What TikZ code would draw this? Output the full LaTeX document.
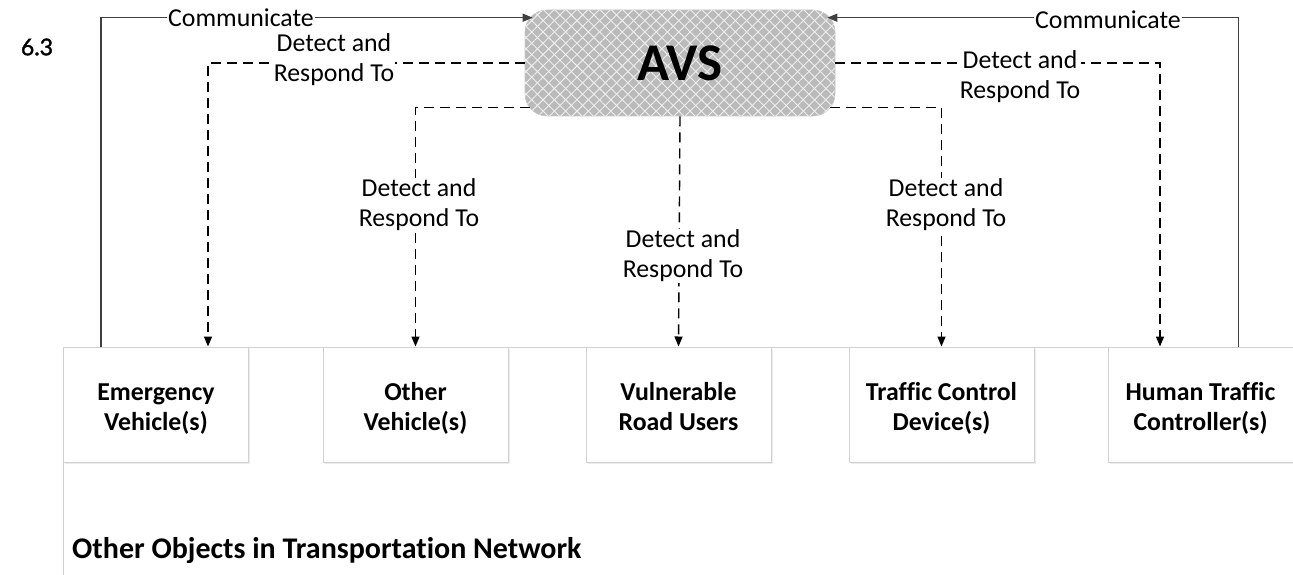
\documentclass[tikz,border=0pt]{standalone}
\usepackage{fontspec}
\setmainfont{Carlito}[Ligatures={NoCommon}]
\newfontfamily\latofont{Lato}[FakeBold=1.5]
\usetikzlibrary{arrows.meta,patterns.meta,calc,shadows}
\newcommand\mytwolines[2]{\rule{0pt}{31pt}#1\\#2\strut}
\begin{document}
\begin{tikzpicture}[x=1pt,y=-1pt,
  txt/.style={font=\fontsize{25.8}{30}\selectfont, align=center, inner sep=1pt},
  lbl/.style={txt, fill=white},
  obj/.style={draw=black!18, line width=1pt, fill=white, minimum width=185pt, minimum height=115pt,
    font=\bfseries\fontsize{25.8}{30}\selectfont, align=center, inner sep=0pt,
    drop shadow={shadow xshift=1.5pt, shadow yshift=-1.5pt, opacity=0.15}},
  det/.style={line width=1.4pt, dash pattern=on 10pt off 6pt, -{Triangle[length=10pt,width=8pt]}},
  com/.style={line width=1.2pt, draw=black!75, -{Triangle[length=10pt,width=8pt]}},
]
\useasboundingbox (0,0) rectangle (1293,575);

% container
\node[draw=black!18, line width=1pt, minimum width=1260pt, minimum height=250pt, anchor=north west, inner sep=0pt] (net) at (63,347) {};
\node[anchor=west, font=\bfseries\fontsize{30}{34}\selectfont, inner sep=0pt] (nettitle) at (72,551) {Other Objects in Transportation Network};

\node[font=\latofont\fontsize{23}{26}\selectfont, inner sep=0pt] (num) at (37,47) {6.3};

% objects
\node[obj] (em) at (156,404.5) {\mytwolines{Emergency}{Vehicle(s)}};
\node[obj] (ov) at (415.5,404.5) {\mytwolines{Other}{Vehicle(s)}};
\node[obj] (vu) at (678.5,404.5) {\mytwolines{Vulnerable}{Road Users}};
\node[obj] (tc) at (941.5,404.5) {\mytwolines{Traffic Control}{Device(s)}};
\node[obj] (hu) at (1200.5,404.5) {\mytwolines{Human Traffic}{Controller(s)}};

% AVS
\node[draw=black!22, line width=0.6pt, rounded corners=22pt, minimum width=310pt, minimum height=106pt,
  fill=black!27, inner sep=0pt,
  postaction={pattern={Lines[angle=45,distance=8pt,line width=0.9pt]}, pattern color=white!75!black!27},
  postaction={pattern={Lines[angle=-45,distance=8pt,line width=0.9pt]}, pattern color=white!75!black!27},
  ] (avs) at (680,63) {};
\node[font=\bfseries\fontsize{53}{60}\selectfont, inner sep=0pt] (avst) at (avs.center) {AVS};

% communicate
\draw[com] ($(em.north west)+(38,0)$) |- ($(avs.north west)+(8,8)$);
\draw[com] ($(hu.north east)+(-55,0)$) |- ($(avs.north east)+(-8,8)$);
\node[lbl] (c1) at (241,18) {Communicate};
\node[lbl] (c2) at (1108,20) {Communicate};

% detect and respond
\draw[det] (avs.west) -| ($(em.north)+(52,0)$);
\draw[det] (avs.east) -| ($(hu.north)+(-40.5,0)$);
\draw[det] ($(avs.south west)+(5,-9)$) -| (ov.north);
\draw[det] ($(avs.south east)+(-5,-9)$) -| (tc.north);
\draw[det] (avs.south) -- (vu.north);

\node[lbl] (d1) at (334,60) {Detect and\\Respond To};
\node[lbl] (d2) at (1020,77) {Detect and\\Respond To};
\node[lbl] (d3) at (419,205) {Detect and\\Respond To};
\node[lbl] (d4) at (946,205) {Detect and\\Respond To};
\node[lbl] (d5) at (683,256) {Detect and\\Respond To};
\end{tikzpicture}
\end{document}
